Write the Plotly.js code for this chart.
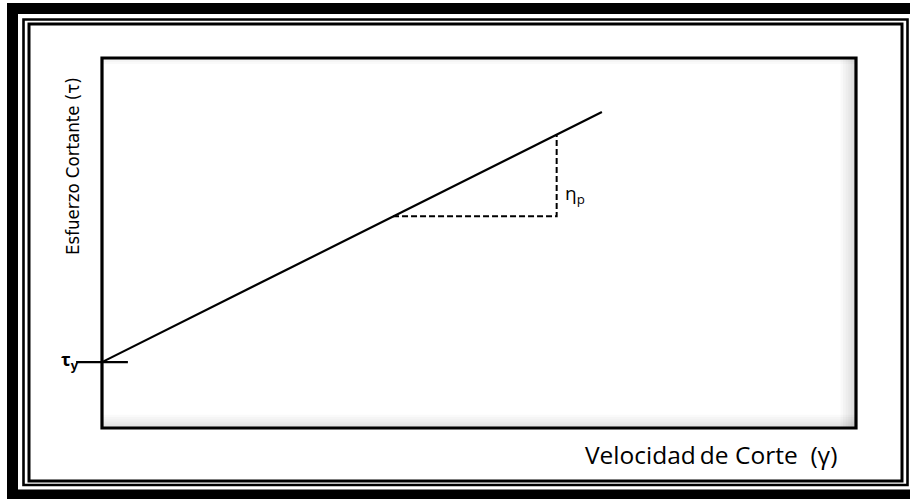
<!DOCTYPE html>
<html>
<head>
<meta charset="utf-8">
<script src="https://cdn.plot.ly/plotly-3.0.1.min.js"></script>
<style>html,body{margin:0;padding:0;background:#fff;}#chart{width:910px;height:499px;}</style>
</head>
<body>
<div id="chart"></div>
<script>
// ---- data ----
var binghamX = [0, 6.63];          // shear rate (arbitrary units)
var binghamY = [1.78, 8.54];       // shear stress (arbitrary units)
var slopeTriX = [3.86, 6.03, 6.03];
var slopeTriY = [5.72, 5.72, 7.93];
var yieldX = [0];
var yieldY = [1.78];
var xTitle = 'Velocidad\u2009de Corte\u00a0\u00a0(\u03b3)';
var yTitle = 'Esfuerzo Cortante (\u03c4)';
var yieldLabel = '\u03c4<sub>y</sub>';
var slopeLabel = '\u03b7<sub>p</sub>';

// ---- layout geometry ----
var W = 910, H = 499;
var M = {l: 102, r: 54, t: 58, b: 71};
var pw = W - M.l - M.r, ph = H - M.t - M.b;
function px(x) { return (x - M.l) / pw; }
function py(y) { return (H - M.b - y) / ph; }

var shapes = [];
// inner shadow of plot box (right/bottom/top)
for (var i = 1; i <= 6; i++) {
  shapes.push({type: 'rect', xref: 'paper', yref: 'paper', layer: 'below',
    x0: 1 - (i * 2.6) / pw, x1: 1, y0: 0, y1: 1,
    fillcolor: 'rgba(0,0,0,0.022)', line: {width: 0}});
  shapes.push({type: 'rect', xref: 'paper', yref: 'paper', layer: 'below',
    x0: 0, x1: 1, y0: 0, y1: (i * 2.2) / ph,
    fillcolor: 'rgba(0,0,0,0.02)', line: {width: 0}});
}
for (var j = 1; j <= 3; j++) {
  shapes.push({type: 'rect', xref: 'paper', yref: 'paper', layer: 'below',
    x0: 0, x1: 1, y0: 1 - (j * 2) / ph, y1: 1,
    fillcolor: 'rgba(0,0,0,0.02)', line: {width: 0}});
}
// plot box
shapes.push({type: 'rect', xref: 'paper', yref: 'paper', x0: 0, x1: 1, y0: 0, y1: 1,
  line: {color: '#000', width: 3.2}});
// page frame: thick outer + double inner
shapes.push({type: 'rect', xref: 'paper', yref: 'paper',
  x0: px(12.5), x1: px(916), y0: py(495), y1: py(8.5),
  line: {color: '#000', width: 11}});
shapes.push({type: 'rect', xref: 'paper', yref: 'paper',
  x0: px(23.5), x1: px(907.5), y0: py(485), y1: py(19.5),
  line: {color: '#000', width: 2.6}});
shapes.push({type: 'rect', xref: 'paper', yref: 'paper',
  x0: px(29), x1: px(902), y0: py(481), y1: py(24),
  line: {color: '#000', width: 3}});

var traces = [
  {x: binghamX, y: binghamY, mode: 'lines', line: {color: '#000', width: 2.2},
   hoverinfo: 'skip', showlegend: false},
  {x: slopeTriX, y: slopeTriY, mode: 'lines', line: {color: '#000', width: 2, dash: '6px,3px'},
   hoverinfo: 'skip', showlegend: false},
  {x: yieldX, y: yieldY, mode: 'markers', cliponaxis: false,
   marker: {symbol: 'line-ew', size: 37, color: '#000', line: {color: '#000', width: 2.2}},
   hoverinfo: 'skip', showlegend: false}
];

var layout = {
  width: W, height: H,
  margin: M,
  paper_bgcolor: '#fff', plot_bgcolor: '#fff',
  showlegend: false,
  xaxis: {range: [0, 10], showgrid: false, zeroline: false, showticklabels: false,
          ticks: '', showline: false, fixedrange: true},
  yaxis: {range: [0, 10], showgrid: false, zeroline: false, showticklabels: false,
          ticks: '', showline: false, fixedrange: true},
  shapes: shapes,
  annotations: [
    {xref: 'paper', yref: 'paper', x: px(711), y: py(455), text: xTitle, showarrow: false,
     xanchor: 'center', yanchor: 'middle',
     font: {family: 'Open Sans, Liberation Sans, sans-serif', size: 24.5, color: '#000'}},
    {xref: 'paper', yref: 'paper', x: px(72), y: py(166), text: yTitle, showarrow: false,
     textangle: -90, xanchor: 'center', yanchor: 'middle',
     font: {family: 'Liberation Sans Narrow, DejaVu Sans Condensed, sans-serif', size: 18.5, color: '#000'}},
    {xref: 'x', yref: 'y', x: yieldX[0], y: yieldY[0], text: '<b>' + yieldLabel + '</b>', showarrow: false,
     xanchor: 'right', yanchor: 'middle', xshift: -21, yshift: 2,
     font: {family: 'Open Sans, Liberation Sans, sans-serif', size: 18, color: '#000'}},
    {xref: 'x', yref: 'y', x: slopeTriX[2], y: slopeTriY[0], text: slopeLabel, showarrow: false,
     xanchor: 'left', yanchor: 'middle', xshift: 6, yshift: 22,
     font: {family: 'Open Sans, Liberation Sans, sans-serif', size: 19, color: '#000'}}
  ]
};

Plotly.newPlot('chart', traces, layout, {staticPlot: true, displayModeBar: false});
</script>
</body>
</html>
